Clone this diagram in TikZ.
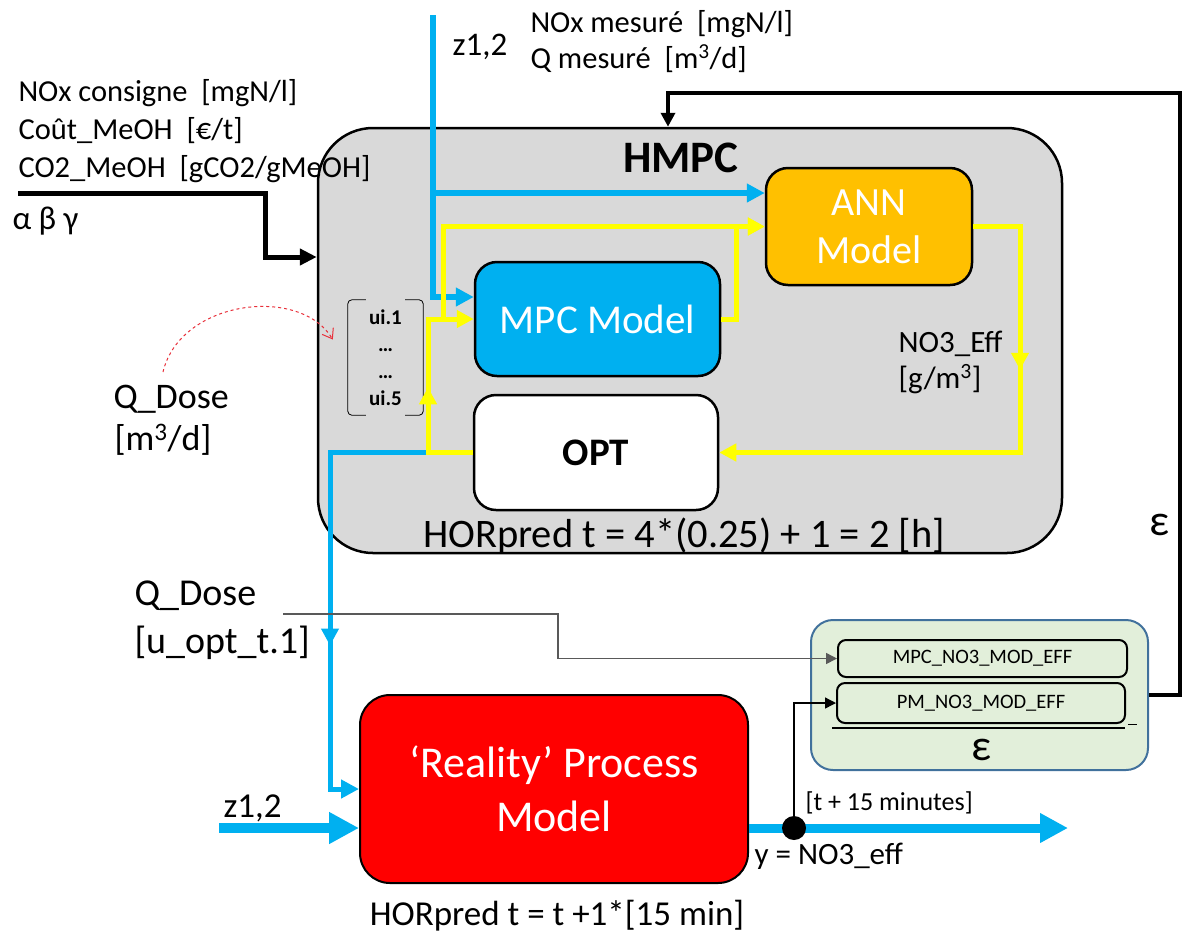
\documentclass[tikz,border=0pt]{standalone}
\usepackage{fontspec}
\setmainfont{Carlito}
\usetikzlibrary{arrows.meta,decorations.markings}
\definecolor{hgray}{HTML}{D9D9D9}
\definecolor{cblue}{HTML}{00B0F0}
\definecolor{corange}{HTML}{FFC000}
\definecolor{cyellow}{HTML}{FFFF00}
\definecolor{cred}{HTML}{FF0000}
\definecolor{cgreen}{HTML}{E2EFDA}
\definecolor{cgborder}{HTML}{41719C}
\definecolor{cdash}{HTML}{E8303A}
\definecolor{cthin}{HTML}{595959}
\newcommand\myfs[2]{\fontsize{#1}{#2}\selectfont}
\begin{document}
\begin{tikzpicture}[x=1pt,y=-1pt,
  mbox/.style={draw=black, line width=2.5pt, rounded corners=22pt, inner sep=0pt, align=center},
  bluel/.style={draw=cblue, line width=5.5pt},
  yell/.style={draw=cyellow, line width=5pt},
  btip/.style={-{Triangle[length=18pt,width=18pt]}},
  ytip/.style={-{Triangle[length=17pt,width=17pt]}},
  ktip/.style={-{Triangle[length=14pt,width=14pt]}},
  thintip/.style={-{Triangle[length=11pt,width=11pt]}},
  midarr/.style n args={2}{postaction={decorate}, decoration={markings, mark=at position #1 with {\arrow[#2]{Triangle[length=17pt,width=17pt]}}}},
  lab/.style={anchor=base west, font=\myfs{30.5}{36}},
]
\useasboundingbox (0,0) rectangle (1182,938);

% ---------- HMPC block ----------
\node[mbox, fill=hgray, rounded corners=55pt, minimum width=744pt, minimum height=425pt] (HMPC) at (690,340.5) {};
\node[anchor=base, font=\bfseries\myfs{45}{50}] (title) at (681,172) {HMPC};
\node[mbox, fill=corange, minimum width=206pt, minimum height=117pt, text=white, font=\myfs{40}{48}] (ANN) at (869,226.5) {ANN\\Model};
\node[mbox, fill=cblue, minimum width=245pt, minimum height=114pt, text=white, font=\myfs{41}{46}] (MPC) at (597.5,319) {MPC Model};
\node[mbox, fill=white, minimum width=244pt, minimum height=115pt, font=\bfseries\myfs{39}{44}] (OPT) at (596,452.5) {OPT};
\node[minimum width=75pt, minimum height=115pt, inner sep=0pt, align=center, font=\bfseries\myfs{21}{27}] (ui) at (385.5,357.5) {ui.1\\…\\…\\ui.5};
\draw[line width=0.8pt, rounded corners=4pt] ([xshift=18pt]ui.north west) -- (ui.north west) -- (ui.south west) -- ([xshift=18pt]ui.south west);
\draw[line width=0.8pt, rounded corners=4pt] ([xshift=-18pt]ui.north east) -- (ui.north east) -- (ui.south east) -- ([xshift=-18pt]ui.south east);
\node[anchor=base, font=\myfs{40.5}{46}] (hor1) at (684,547) {HORpred t = 4*(0.25) + 1 = 2 [h]};
\node[anchor=base west, align=left, font=\myfs{31}{36}] (no3) at (895,388) {NO3\_Eff\\{}[g/m\textsuperscript{3}]};

% ---------- epsilon block ----------
\node[draw=cgborder, line width=2pt, fill=cgreen, rounded corners=22pt, minimum width=337pt, minimum height=150pt] (EPS) at (979.5,695) {};
\node[draw, line width=2pt, rounded corners=8pt, minimum width=289pt, minimum height=37pt, inner sep=0pt, font=\myfs{20.5}{24}] (MNO) at (982.5,658.5) {MPC\_NO3\_MOD\_EFF};
\node[draw, line width=2pt, rounded corners=8pt, minimum width=288pt, minimum height=40pt, inner sep=0pt, font=\myfs{20.5}{24}] (PNO) at (981,703) {PM\_NO3\_MOD\_EFF};
\draw[line width=1.5pt] (832,728) -- (1125,728);
\draw[line width=0.8pt] (1128,724) -- (1137,724);
\node[font=\myfs{44}{48}] (epsb) at (982,750) {ε};

% ---------- reality block ----------
\node[mbox, line width=2pt, fill=cred, rounded corners=30pt, minimum width=388pt, minimum height=188pt, text=white, font=\myfs{44}{54}] (Real) at (554,789) {‘Reality’ Process\\Model};

% ---------- coordinates ----------
\coordinate (ztop) at (433,15);
\coordinate (zbr) at (433,193);
\coordinate (yj) at (428,452.5);
\coordinate (zin) at (219,828);
\coordinate (yout) at (1068,828);
\coordinate (qdl) at (283,614);
\coordinate (fbc) at (668,93);
\coordinate (abin) at (18,193);
\coordinate (abturn) at (265,257);
\coordinate (qdose) at (163,372);

% ---------- blue connectors ----------
\draw[bluel, btip] (ztop) |- ([yshift=22pt]MPC.west);
\draw[bluel, btip] (zbr) -- ([yshift=33.5pt]ANN.west);
\draw[bluel, line width=5pt, btip, midarr={291pt}{cblue}] (yj) -| (330,789) -- (Real.west);

% ---------- yellow connectors ----------
\draw[yell, ytip] (443,319) |- (ANN.west);
\draw[yell, ytip] (MPC.east) -- ++(15,0) |- (ANN.west);
\draw[yell, ytip, midarr={110pt}{cyellow}] (OPT.west) -| (428,319) -- (MPC.west);
\draw[yell, ytip, midarr={190pt}{cyellow}] (ANN.east) -| (1020,452.5) -- (OPT.east);

% ---------- z input and output ----------
\draw[cblue, line width=10pt, -{Triangle[length=30pt,width=30pt]}] (zin) -- ([yshift=-39pt]Real.west);
\draw[cblue, line width=9pt, -{Triangle[length=28pt,width=28pt]}] ([yshift=-39pt]Real.east) -- (yout);
\node[circle, fill=black, minimum size=24pt, inner sep=0pt] (dot) at (794,828) {};
\draw[line width=1.3pt, thintip] (dot.center) |- (PNO.west);
\draw[cthin, line width=1.5pt, thintip] (qdl) -- (558,614) |- (MNO.west);

% ---------- black connectors ----------
\draw[line width=3.5pt, ktip] (EPS.east) -- (1180,695) |- (fbc) -- (fbc |- HMPC.north);
\draw[line width=5pt, -{Triangle[length=17pt,width=16pt]}] (abin) -| (abturn) -- (abturn -| HMPC.west);

% ---------- red dashed ----------
\draw[cdash, dashed, line width=1pt, -{Straight Barb[length=9pt,width=13pt]}] (qdose) .. controls (180,300) and (300,285) .. ([xshift=-15pt,yshift=18pt]ui.west);

% ---------- labels ----------
\node[lab] (l1) at (15,101) {NOx consigne\ \ [mgN/l]};
\node[lab] (l2) at (15,139) {Coût\_MeOH\ \ [€/t]};
\node[lab] (l3) at (15,177) {CO2\_MeOH\ \ [gCO2/gMeOH]};
\node[lab, font=\myfs{33}{38}] (abg) at (9,229) {α β γ};
\node[lab, font=\myfs{33}{38}] (zt) at (449,55) {z1,2};
\node[lab] (nm) at (527,32) {NOx mesuré\ \ [mgN/l]};
\node[lab] (qm) at (527,68) {Q mesuré\ \ [m\textsuperscript{3}/d]};
\node[lab, font=\myfs{36}{40}] (qd1) at (110,408) {Q\_Dose};
\node[lab, font=\myfs{36}{40}] (qd1u) at (111,450) {[m\textsuperscript{3}/d]};
\node[lab, font=\myfs{38}{44}] (qd2) at (131,605) {Q\_Dose};
\node[lab, font=\myfs{38}{44}] (uopt) at (131,653) {[u\_opt\_t.1]};
\node[lab, font=\myfs{35}{40}] (zb) at (220,817) {z1,2};
\node[lab, font=\myfs{26}{30}] (tmin) at (802,810) {[t + 15 minutes]};
\node[lab, font=\myfs{31}{36}] (yno) at (751,864) {y = NO3\_eff};
\node[anchor=base, font=\myfs{35}{42}] (hor2) at (557,925) {HORpred t = t +1*[15 min]};
\node[font=\myfs{44}{48}] (epsr) at (1160,525) {ε};
\end{tikzpicture}
\end{document}
